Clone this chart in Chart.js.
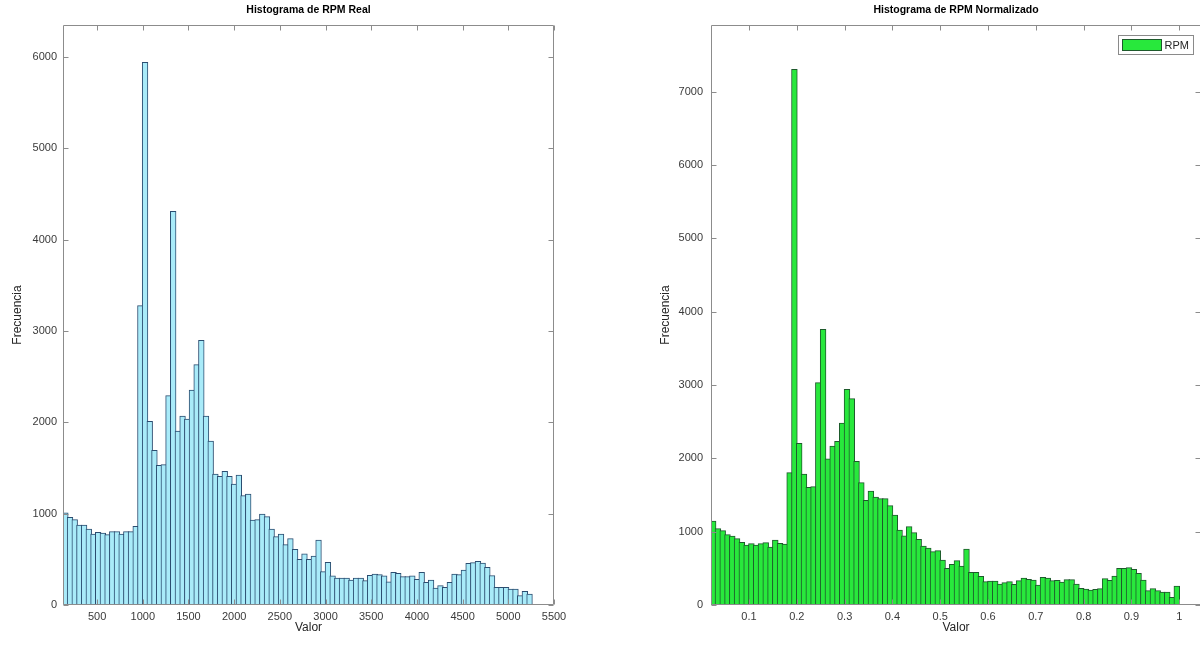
<!DOCTYPE html>
<html><head><meta charset="utf-8">
<script src="https://cdn.jsdelivr.net/npm/chart.js@4.4.1/dist/chart.umd.min.js"></script>
<style>
html,body{margin:0;padding:0;background:#fff;overflow:hidden;width:1200px;height:645px;}
#w1{position:absolute;left:0;top:0;width:600px;height:645px;}
#w2{position:absolute;left:620px;top:0;width:581px;height:645px;}
</style></head><body>
<div id="w1"><canvas id="c1"></canvas></div>
<div id="w2"><canvas id="c2"></canvas></div>
<script>
// ---- data: histogram of real RPM (100 bins) ----
const rpmBinStart = 127;
const rpmBinWidth = 51.31;
const rpmCounts = [
  1010, 960, 934, 876, 876, 832, 777, 796, 788, 770, 803, 803, 777, 803, 803, 861,
  3277, 5940, 2011, 1693, 1529, 1536, 2292, 4310,
  1905, 2069, 2036, 2354, 2631, 2898, 2069, 1796, 1434, 1409, 1464, 1409, 1325, 1423, 1197, 1215,
  930, 934, 996, 967, 832, 748, 777, 661, 726, 609, 500, 560, 500, 536,
  712, 365, 467, 318, 296, 296, 296, 274, 296, 296, 266, 325, 339, 332, 318, 255, 358, 347, 310, 310,
  318, 281, 358, 248, 274, 186, 212, 193, 248, 339, 332, 383, 456, 464, 478, 460, 412, 321, 193, 193,
  193, 175, 175, 102, 150, 120
];
const rpmXTicks = [500, 1000, 1500, 2000, 2500, 3000, 3500, 4000, 4500, 5000, 5500];
const rpmYTicks = [0, 1000, 2000, 3000, 4000, 5000, 6000];

// ---- data: histogram of normalized RPM (bins of 0.01 from 0.02 to 1.00) ----
const normBinStart = 0.02;
const normBinWidth = 0.01;
const normCounts = [
  1145, 1041, 1014, 959, 941, 905, 855, 818, 836, 818, 836, 850, 791, 886, 841, 832,
  1805, 7306, 2205, 1786, 1605, 1614, 3032, 3759, 1995, 2168, 2232, 2482, 2941, 2814,
  1959, 1668, 1427, 1555, 1473, 1450, 1450, 1355, 1227, 1023, 945, 1068, 986, 895, 805, 777, 727, 741,
  614, 500, 555, 605, 532, 764, 445, 445, 391, 318, 327, 327, 286, 305, 318, 282, 332, 368, 350, 341,
  273, 377, 368, 332, 336, 314, 345, 345, 286, 227, 218, 205, 214, 223, 359, 336, 395, 500, 500, 509,
  486, 432, 341, 195, 223, 195, 177, 177, 105, 259
];
const normXTicks = [0.1, 0.2, 0.3, 0.4, 0.5, 0.6, 0.7, 0.8, 0.9, 1];
const normYTicks = [0, 1000, 2000, 3000, 4000, 5000, 6000, 7000];

const FONT = '"Liberation Sans", Arial, Helvetica, sans-serif';
Chart.defaults.font.family = FONT;
Chart.defaults.font.size = 11;
Chart.defaults.color = '#3a3a3a';

const matlabFrame = {
  id: 'matlabFrame',
  afterDraw(chart, args, o) {
    const {ctx, chartArea: a, scales: {x, y}} = chart;
    ctx.save();
    ctx.strokeStyle = o.axisColor;
    ctx.lineWidth = 1;
    const L = Math.round(a.left) + 0.5, R = Math.round(a.right) - 0.5;
    const T = Math.round(a.top) + 0.5, B = Math.round(a.bottom) - 0.5;
    ctx.beginPath();
    ctx.rect(L, T, R - L, B - T);
    x.ticks.forEach(t => {
      const px = Math.round(x.getPixelForValue(t.value)) + 0.5;
      ctx.moveTo(px, B); ctx.lineTo(px, B - 5);
      ctx.moveTo(px, T); ctx.lineTo(px, T + 5);
    });
    y.ticks.forEach(t => {
      const py = Math.round(y.getPixelForValue(t.value)) + 0.5;
      ctx.moveTo(L, py); ctx.lineTo(L + 5, py);
      ctx.moveTo(R, py); ctx.lineTo(R - 5, py);
    });
    ctx.stroke();
    ctx.fillStyle = '#000';
    ctx.font = 'bold 10.5px ' + FONT;
    ctx.textAlign = 'center';
    ctx.textBaseline = 'middle';
    ctx.fillText(o.title, (a.left + a.right) / 2, 10);
    if (o.legend) {
      const ds = chart.data.datasets[0];
      const bw = 75, bh = 19, bx = Math.round(a.right) - 8 - bw + 0.5, by = 35.5;
      ctx.fillStyle = '#fff';
      ctx.fillRect(bx, by, bw, bh);
      ctx.strokeStyle = '#8a8a8a';
      ctx.strokeRect(bx, by, bw, bh);
      ctx.fillStyle = ds.backgroundColor;
      ctx.fillRect(bx + 4, by + 4, 39, 11);
      ctx.strokeStyle = ds.borderColor;
      ctx.strokeRect(bx + 4, by + 4, 39, 11);
      ctx.fillStyle = '#262626';
      ctx.font = '11px ' + FONT;
      ctx.textAlign = 'left';
      ctx.fillText(ds.label, bx + 46, by + bh / 2 + 0.5);
    }
    ctx.restore();
  }
};

function makeHist(canvasId, cfg) {
  const points = cfg.counts.map((c, i) => ({x: cfg.binStart + (i + 0.5) * cfg.binWidth, y: c}));
  return new Chart(document.getElementById(canvasId), {
    type: 'bar',
    data: {datasets: [{
      label: cfg.label,
      data: points,
      backgroundColor: cfg.fill,
      borderColor: cfg.edge,
      borderWidth: 1,
      barThickness: cfg.barPx,
      borderSkipped: 'start'
    }]},
    options: {
      responsive: true,
      maintainAspectRatio: false,
      devicePixelRatio: 1,
      animation: false,
      layout: {padding: {left: 0, right: cfg.padRight, top: 25, bottom: 0}},
      plugins: {
        legend: {display: false},
        tooltip: {enabled: false},
        matlabFrame: {title: cfg.title, axisColor: '#8c8c8c', legend: cfg.legend}
      },
      scales: {
        x: {
          type: 'linear',
          offset: false,
          min: cfg.xMin, max: cfg.xMax,
          grid: {display: false, drawTicks: false},
          border: {display: false},
          afterBuildTicks: s => { s.ticks = cfg.xTicks.map(v => ({value: v})); },
          afterFit: s => { s.height = 40; },
          ticks: {autoSkip: false, maxRotation: 0, padding: 5, callback: v => String(v)},
          title: {display: true, text: 'Valor', color: '#262626', font: {size: 12}, padding: {top: 0, bottom: 10.5}}
        },
        y: {
          type: 'linear',
          min: 0, max: cfg.yMax,
          grid: {display: false, drawTicks: false},
          border: {display: false},
          afterBuildTicks: s => { s.ticks = cfg.yTicks.map(v => ({value: v})); },
          afterFit: s => { s.width = cfg.yWidth; },
          ticks: {autoSkip: false, padding: cfg.yPad, callback: v => String(v)},
          title: {display: true, text: 'Frecuencia', color: '#262626', font: {size: 12}, padding: {top: cfg.yTitlePad, bottom: 0}}
        }
      }
    },
    plugins: [matlabFrame]
  });
}

makeHist('c1', {
  label: 'RPM', title: 'Histograma de RPM Real',
  counts: rpmCounts, binStart: rpmBinStart, binWidth: rpmBinWidth,
  xTicks: rpmXTicks, yTicks: rpmYTicks,
  xMin: 127, xMax: 5500, yMax: 6350,
  fill: '#a9ebf9', edge: '#2b4d70', barPx: 5.68,
  padRight: 46, yWidth: 63, yPad: 6, yTitlePad: 10.5, legend: false
});

makeHist('c2', {
  label: 'RPM', title: 'Histograma de RPM Normalizado',
  counts: normCounts, binStart: normBinStart, binWidth: normBinWidth,
  xTicks: normXTicks, yTicks: normYTicks,
  xMin: 0.0205, xMax: 1.0456, yMax: 7910,
  fill: '#28e83c', edge: '#1e5a2c', barPx: 5.78,
  padRight: 0, yWidth: 91, yPad: 8, yTitlePad: 38.5, legend: true
});
</script>
</body></html>
